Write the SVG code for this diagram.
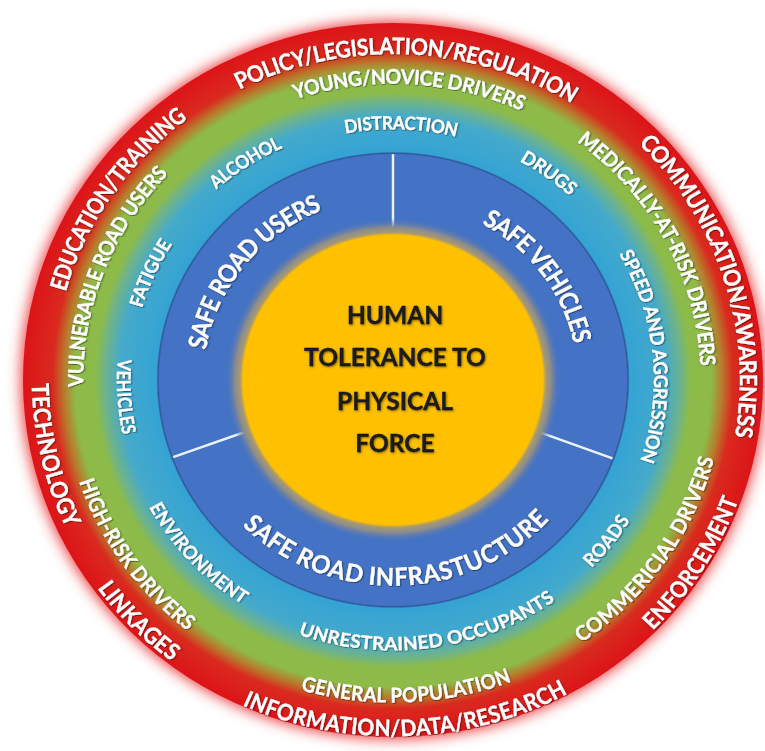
<svg xmlns="http://www.w3.org/2000/svg" width="765" height="751" viewBox="0 0 765 751">
<style>
.t{font-family:Lato,"Open Sans","Liberation Sans",sans-serif;font-weight:700;fill:#ffffff;stroke:#ffffff;stroke-width:0.3;dominant-baseline:central;text-anchor:middle}
.red{font-size:23.5px}.grn{font-size:21px}.lb{font-size:19px}.db{font-size:25.5px}
.ctr{font-family:Lato,"Open Sans","Liberation Sans",sans-serif;font-weight:700;font-size:24.5px;fill:#1a1a1a;stroke:#1a1a1a;stroke-width:0.3;text-anchor:middle}
.div{stroke:#ffffff;stroke-width:2.5;stroke-opacity:0.9;fill:none}
</style>
<defs>
<radialGradient id="rings" cx="0" cy="0" r="372" gradientUnits="userSpaceOnUse">
<stop offset="0" stop-color="#4472C4"/>
<stop offset="0.628" stop-color="#4472C4"/>
<stop offset="0.6317" stop-color="#2F5597"/>
<stop offset="0.636" stop-color="#34A3D4"/>
<stop offset="0.735" stop-color="#45AACB"/>
<stop offset="0.775" stop-color="#6FB38A"/>
<stop offset="0.80" stop-color="#8CBB4A"/>
<stop offset="0.855" stop-color="#8EBA48"/>
<stop offset="0.885" stop-color="#B87A2C"/>
<stop offset="0.915" stop-color="#D92A1E"/>
<stop offset="1" stop-color="#DD1218"/>
</radialGradient>
<radialGradient id="core" cx="0" cy="0" r="168" gradientUnits="userSpaceOnUse">
<stop offset="0" stop-color="#FFC000"/>
<stop offset="0.893" stop-color="#FFC000"/>
<stop offset="0.91" stop-color="#A89A70"/>
<stop offset="0.94" stop-color="#8C8C8C"/>
<stop offset="1" stop-color="#4472C4" stop-opacity="0"/>
</radialGradient>
<filter id="glow" x="-20%" y="-20%" width="140%" height="140%"><feGaussianBlur stdDeviation="7"/></filter>
<filter id="sh" x="-10%" y="-10%" width="120%" height="120%"><feDropShadow dx="0.8" dy="1" stdDeviation="0.8" flood-color="#000" flood-opacity="0.5"/></filter>
<path id="p1" d="M -199.0 -284.3 A 347 347 0 0 1 222.6 -266.2"/>
<path id="p2" d="M -345.8 -47.4 A 349 349 0 0 1 -171.3 -304.1"/>
<path id="p3" d="M 214.7 -283.9 A 356 356 0 0 1 339.1 108.2"/>
<path id="p4" d="M -349.0 -45.9 A 352 352 0 0 0 -294.5 192.7"/>
<path id="p5" d="M -314.9 168.2 A 357 357 0 0 0 -174.2 311.6"/>
<path id="p6" d="M -191.3 305.0 A 360 360 0 0 0 213.1 290.1"/>
<path id="p7" d="M 215.5 285.9 A 358 358 0 0 0 350.4 73.2"/>
<path id="p8" d="M -140.6 -281.9 A 315 315 0 0 1 170.2 -265.1"/>
<path id="p9" d="M -313.8 51.4 A 318 318 0 0 1 -198.0 -248.9"/>
<path id="p10" d="M 151.7 -277.2 A 316 316 0 0 1 314.6 29.2"/>
<path id="p11" d="M -317.6 58.9 A 323 323 0 0 0 -163.0 278.9"/>
<path id="p12" d="M -133.1 297.6 A 326 326 0 0 0 157.1 285.7"/>
<path id="p13" d="M 145.1 288.6 A 323 323 0 0 0 321.1 34.9"/>
<path id="p14" d="M -84.7 -253.2 A 267 267 0 0 1 100.0 -247.6"/>
<path id="p15" d="M -207.8 -175.6 A 272 272 0 0 1 -78.2 -260.5"/>
<path id="p16" d="M 96.6 -248.9 A 267 267 0 0 1 206.9 -168.8"/>
<path id="p17" d="M -266.0 -39.8 A 269 269 0 0 1 -204.5 -174.7"/>
<path id="p18" d="M 211.2 -165.0 A 268 268 0 0 1 239.4 120.4"/>
<path id="p19" d="M -262.9 -56.8 A 269 269 0 0 0 -253.4 90.2"/>
<path id="p20" d="M -253.2 93.7 A 270 270 0 0 0 -113.7 244.9"/>
<path id="p21" d="M -127.3 241.5 A 273 273 0 0 0 187.6 198.3"/>
<path id="p22" d="M 165.0 215.0 A 271 271 0 0 0 248.5 108.1"/>
<path id="p23" d="M -199.9 -5.2 A 200 200 0 0 1 -48.4 -194.1"/>
<path id="p24" d="M 69.9 -182.0 A 195 195 0 0 1 194.5 -13.6"/>
<path id="p25" d="M -162.1 122.2 A 203 203 0 0 0 166.6 116.0"/>
</defs>
<rect width="765" height="751" fill="#ffffff"/>
<g transform="translate(393,380) scale(1,0.965)">
<g id="rings-bg">
<circle r="372" fill="#EC3A3C" filter="url(#glow)"/>
<circle r="370" fill="url(#rings)"/>
</g>
<g id="dividers">
<line class="div" x1="0" y1="-150" x2="0" y2="-234"/>
<line class="div" x1="140.7" y1="52.0" x2="219.5" y2="81.2"/>
<line class="div" x1="-141.0" y1="51.3" x2="-219.9" y2="80.0"/>
</g>
<g id="core-circle"><circle r="168" fill="url(#core)"/></g>
<g filter="url(#sh)">
<g id="outer-policy"><text class="t red"><textPath href="#p1" startOffset="50%" textLength="356.7" lengthAdjust="spacingAndGlyphs">POLICY/LEGISLATION/REGULATION</textPath></text></g>
<g id="outer-education"><text class="t red"><textPath href="#p2" startOffset="50%" textLength="226" lengthAdjust="spacingAndGlyphs">EDUCATION/TRAINING</textPath></text></g>
<g id="outer-communication"><text class="t red"><textPath href="#p3" startOffset="50%" textLength="339.3" lengthAdjust="spacingAndGlyphs">COMMUNICATION/AWARENESS</textPath></text></g>
<g id="outer-technology"><text class="t red"><textPath href="#p4" startOffset="50%" textLength="151.7" lengthAdjust="spacingAndGlyphs">TECHNOLOGY</textPath></text></g>
<g id="outer-linkages"><text class="t red"><textPath href="#p5" startOffset="50%" textLength="104.1" lengthAdjust="spacingAndGlyphs">LINKAGES</textPath></text></g>
<g id="outer-information"><text class="t red"><textPath href="#p6" startOffset="50%" textLength="329.2" lengthAdjust="spacingAndGlyphs">INFORMATION/DATA/RESEARCH</textPath></text></g>
<g id="outer-enforcement"><text class="t red"><textPath href="#p7" startOffset="50%" textLength="157.5" lengthAdjust="spacingAndGlyphs">ENFORCEMENT</textPath></text></g>
<g id="green-young"><text class="t grn"><textPath href="#p8" startOffset="50%" textLength="237.5" lengthAdjust="spacingAndGlyphs">YOUNG/NOVICE DRIVERS</textPath></text></g>
<g id="green-vulnerable"><text class="t grn"><textPath href="#p9" startOffset="50%" textLength="248.6" lengthAdjust="spacingAndGlyphs">VULNERABLE ROAD USERS</textPath></text></g>
<g id="green-medically"><text class="t grn"><textPath href="#p10" startOffset="50%" textLength="279.1" lengthAdjust="spacingAndGlyphs">MEDICALLY-AT-RISK DRIVERS</textPath></text></g>
<g id="green-highrisk"><text class="t grn"><textPath href="#p11" startOffset="50%" textLength="187.2" lengthAdjust="spacingAndGlyphs">HIGH-RISK DRIVERS</textPath></text></g>
<g id="green-general"><text class="t grn"><textPath href="#p12" startOffset="50%" textLength="210.0" lengthAdjust="spacingAndGlyphs">GENERAL POPULATION</textPath></text></g>
<g id="green-commericial"><text class="t grn"><textPath href="#p13" startOffset="50%" textLength="231.7" lengthAdjust="spacingAndGlyphs">COMMERICIAL DRIVERS</textPath></text></g>
<g id="lb-distraction"><text class="t lb"><textPath href="#p14" startOffset="50%" textLength="114.2" lengthAdjust="spacingAndGlyphs">DISTRACTION</textPath></text></g>
<g id="lb-alcohol"><text class="t lb"><textPath href="#p15" startOffset="50%" textLength="81.2" lengthAdjust="spacingAndGlyphs">ALCOHOL</textPath></text></g>
<g id="lb-drugs"><text class="t lb"><textPath href="#p16" startOffset="50%" textLength="63.4" lengthAdjust="spacingAndGlyphs">DRUGS</textPath></text></g>
<g id="lb-fatigue"><text class="t lb"><textPath href="#p17" startOffset="50%" textLength="75.1" lengthAdjust="spacingAndGlyphs">FATIGUE</textPath></text></g>
<g id="lb-speed"><text class="t lb"><textPath href="#p18" startOffset="50%" textLength="227.8" lengthAdjust="spacingAndGlyphs">SPEED AND AGGRESSION</textPath></text></g>
<g id="lb-vehicles"><text class="t lb"><textPath href="#p19" startOffset="50%" textLength="77" lengthAdjust="spacingAndGlyphs">VEHICLES</textPath></text></g>
<g id="lb-environment"><text class="t lb"><textPath href="#p20" startOffset="50%" textLength="135.7" lengthAdjust="spacingAndGlyphs">ENVIRONMENT</textPath></text></g>
<g id="lb-unrestrained"><text class="t lb"><textPath href="#p21" startOffset="50%" textLength="263.0" lengthAdjust="spacingAndGlyphs">UNRESTRAINED OCCUPANTS</textPath></text></g>
<g id="lb-roads"><text class="t lb"><textPath href="#p22" startOffset="50%" textLength="61.5" lengthAdjust="spacingAndGlyphs">ROADS</textPath></text></g>
<g id="db-users"><text class="t db"><textPath href="#p23" startOffset="50%" textLength="204.2" lengthAdjust="spacingAndGlyphs">SAFE ROAD USERS</textPath></text></g>
<g id="db-vehicles"><text class="t db"><textPath href="#p24" startOffset="50%" textLength="168" lengthAdjust="spacingAndGlyphs">SAFE VEHICLES</textPath></text></g>
<g id="db-infrastructure"><text class="t db"><textPath href="#p25" startOffset="50%" textLength="326.7" lengthAdjust="spacingAndGlyphs">SAFE ROAD INFRASTUCTURE</textPath></text></g>
</g>
</g>
<g id="center-label" filter="url(#sh)">
<text class="ctr" x="395" y="323.6">HUMAN</text>
<text class="ctr" x="395" y="365.6">TOLERANCE TO</text>
<text class="ctr" x="395" y="409.6">PHYSICAL</text>
<text class="ctr" x="395" y="451.6">FORCE</text>
</g>
</svg>
